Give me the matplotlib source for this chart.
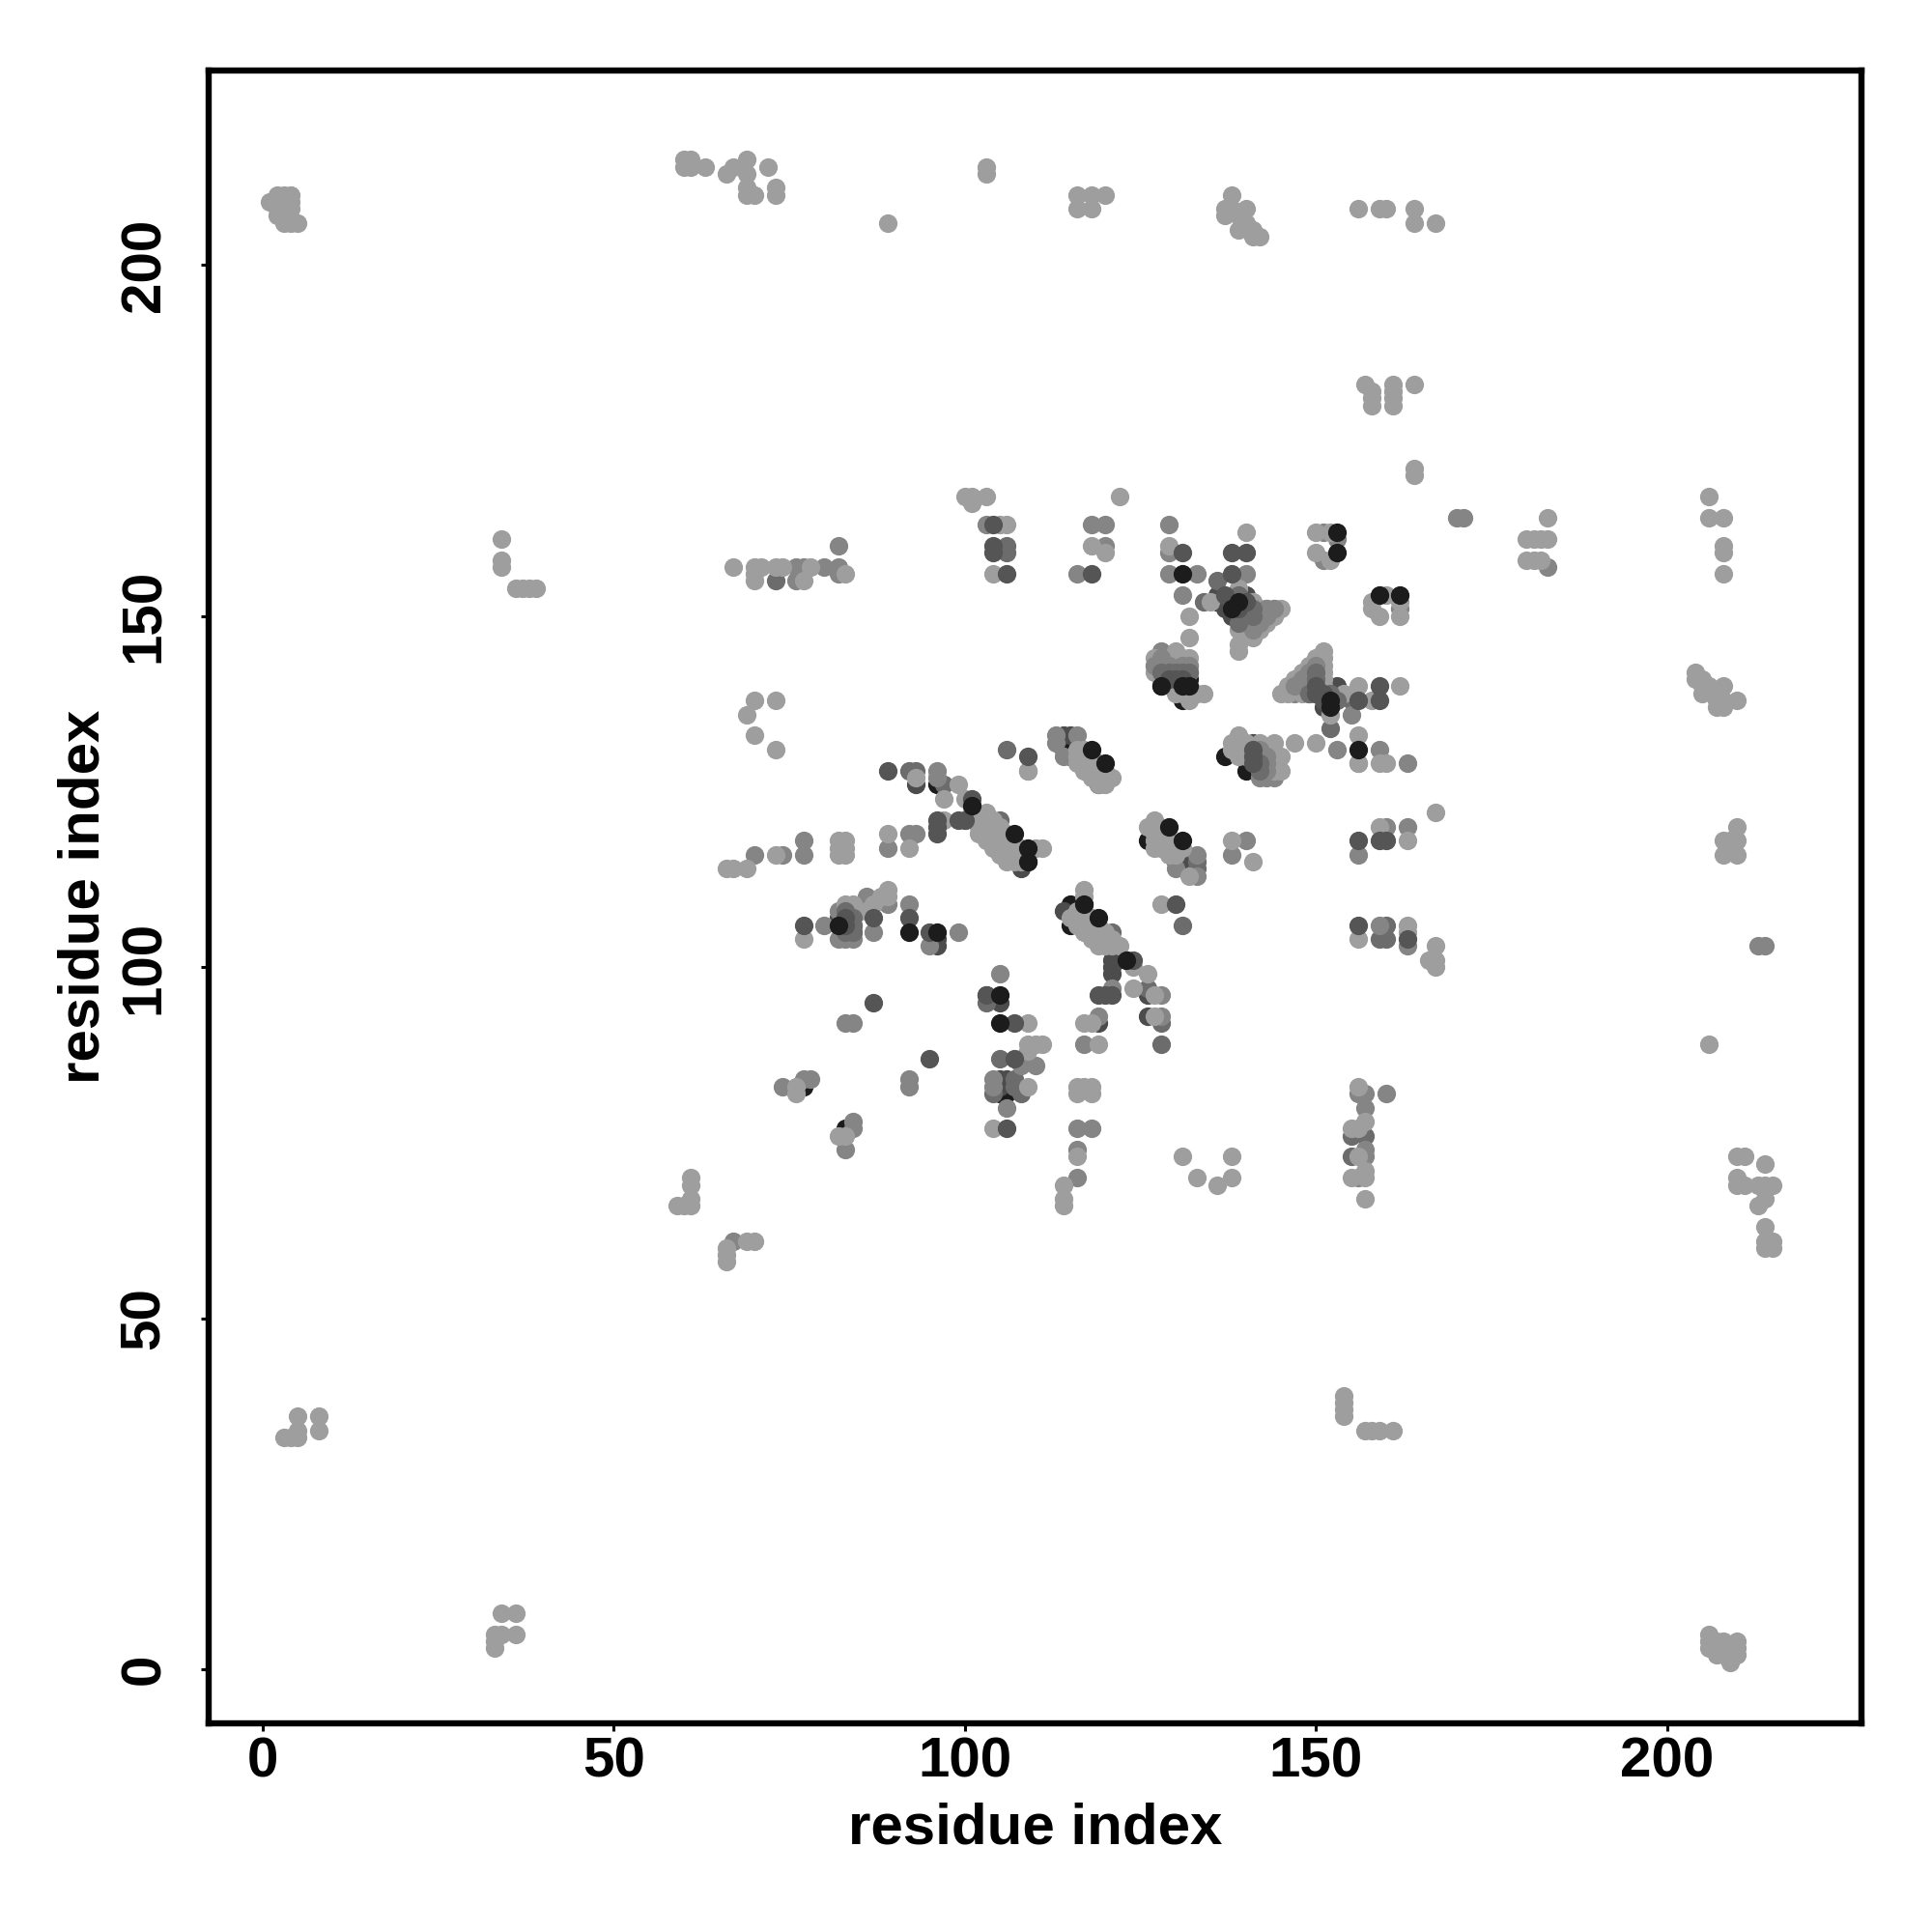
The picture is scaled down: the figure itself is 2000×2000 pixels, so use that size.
import matplotlib
matplotlib.use("Agg")
import matplotlib.pyplot as plt

# contact points, one list per grey tone
black_low = [(114,131),(115,130),(119,126),(140,128),(137,130),(128,140),(129,141),(132,141),(131,138),
             (136,152),(138,152),(138,151),(152,138),(152,137),(82,106),(106,116),(109,115),(126,118),
             (130,115),(131,115),(115,106),(115,109),(117,109),(77,83),(83,77),(106,82),(105,82),(123,101),(96,126),(101,123)]
dark_low = [(114,133),(115,133),(141,132),(141,131),(141,130),(141,129),(136,153),(140,153),(137,151),(138,150),
            (139,150),(150,140),(150,139),(153,140),(151,137),(82,107),(83,107),(105,84),(105,83),(106,84),
            (93,126),(114,108),(132,115),(128,141),(130,141),(96,104),(96,103),(108,114),(121,101),(121,100),(121,99),
            (126,96),(126,93),(119,92),(103,96),(105,95)]
mid_tone = [(136,155),(155,138),(142,129),(142,128),(143,130),(84,106),(84,105),(93,128),(92,128),(73,155),(106,160),(106,159),
            (107,84),(107,83),(108,82),(104,82),(103,95),(105,87),(100,121),(97,126),(105,121),(121,105),(133,115),(133,114),
            (126,97),(128,92),(128,89),(160,106),(159,104),(160,104),(155,73),(157,76),(155,76),(152,134),(134,152),(106,131),(131,106)]
soft_tone = [(76,157),(77,157),(80,157),(82,157),(82,156),(76,155),(82,160),(103,163),(116,156),(118,163),(120,163),(120,160),
             (129,163),(129,159),(129,156),(133,156),(131,153),(140,156),(151,162),(151,158),(153,161),(162,151),(155,136),(153,131),
             (156,129),(163,129),(159,131),(142,127),(143,128),(143,127),(144,127),(113,133),(113,132),(116,133),(114,130),
             (109,128),(77,118),(77,116),(70,116),(74,116),(89,117),(92,119),(93,119),(80,106),(82,108),(84,108),(82,104),(83,104),
             (84,104),(86,110),(85,108),(87,105),(89,109),(92,109),(99,105),(95,103),(96,128),(96,127),(133,116),(133,113),(130,114),
             (138,116),(140,118),(156,116),(160,120),(163,120),(159,106),(163,103),(121,97),(128,96),(119,93),(128,93),(117,89),
             (105,99),(108,87),(108,86),(110,86),(104,84),(104,83),(106,80),(92,84),(92,83),(83,92),(84,92),(74,83),(77,84),(78,84),
             (83,74),(84,78),(84,77),(116,77),(118,77),(116,74),(116,70),(67,61),(157,82),(160,82),(157,80),(157,74),(157,73),
             (156,70),(213,103),(214,103),(156,82),(183,157),(170,164),(171,164),(128,145),(128,144),(128,143),(128,142),(129,143),
             (129,142),(129,144),(132,142),(147,139),(148,140),(149,139),(149,140),(150,141),(150,142),(149,141),(140,148),(141,148),
             (142,149),(143,150),(141,149),(144,151),(143,151)]
light_tone = [(67,157),(70,157),(71,157),(73,157),(74,157),(78,157),(83,156),(70,156),(70,155),(77,155),(100,167),(101,167),(103,167),
              (101,166),(105,163),(106,163),(104,156),(118,160) ,(120,159),(122,167),(129,160),(132,150),(132,147),(135,152),(139,154),
              (141,152),(142,151),(145,151),(144,150),(142,150),(141,150),(140,150),(140,149),(143,149),(142,148),(141,147),(139,148),(139,146),
              (139,145),(140,162),(150,162),(152,162),(150,159),(152,158),(160,153),(158,152),(158,151),(159,150),(162,152),(162,150),
              (151,145),(150,144),(151,144),(149,143),(150,143),(151,143),(148,142),(151,142),(147,141),(151,141),(146,140),(151,140),
              (145,139),(146,139),(148,139),(151,139),(154,139),(152,136),(156,140),(158,138),(162,140),(156,133),(150,132),(147,132),
              (156,129),(159,129),(160,129),(138,132),(139,133),(140,132),(138,131),(139,131),(139,130),(140,130),(142,132),(143,131),
              (144,132),(144,130),(145,130),(144,128),(145,128),(144,129),(143,129),(127,144),(130,145),(132,144),(127,143),(127,142),
              (130,144),(130,143),(131,144),(131,143),(130,142),(132,143),(130,139),(131,139),(132,138),(133,139),(134,139),(132,139),
              (116,131),(117,131),(116,130),(117,130),(118,130),(116,129),(117,129),(118,129),(119,129),(117,128),(118,128),(119,128),
              (120,128),(118,127),(119,127),(120,127),(121,127),(119,126),(120,126),(109,128),(70,138),(73,138),(69,136),(70,133),(73,131),
              (89,119),(92,117),(93,127),(99,126),(97,124),(100,124),(101,122),(97,121),(103,122),(103,121),(104,121),(102,120),(103,120),
              (104,120),(105,120),(102,119),(103,119),(104,119),(105,119),(106,119),(103,118),(104,118),(105,118),(106,118),(104,117),
              (105,117),(106,117),(107,117),(108,117),(105,116),(106,116),(107,116),(108,116),(106,115),(107,115),(108,115),(110,117),(111,117),
              (73,116),(66,114),(67,114),(69,114),(82,118),(83,118),(82,117),(83,117),(82,116),(83,116),(77,104),(83,109),(87,109),(86,108),
              (88,110),(89,111),(89,110),(84,109),(127,121),(126,120),(127,120),(127,119),(128,119),(128,118),(129,118),(127,118),(129,117),
              (130,117),(127,117),(128,117),(129,116),(130,116),(131,117),(132,113),(128,109),(138,118),(141,115),(159,120),(163,118),(167,122),
              (156,104),(163,106),(163,105),(167,103),(166,101),(167,101),(167,100),(117,111),(117,110),(116,108),(117,108),(115,107),(116,107),
              (117,107),(118,107),(116,106),(117,106),(118,106),(119,106),(117,105),(118,105),(119,105),(120,105),(118,104),(119,104),(120,104),
              (121,104),(119,103),(120,103),(121,103),(122,103),(124,100),(126,99),(124,97),(127,96),(127,93),(117,92),(118,92),(119,89),
              (109,92),(109,89),(110,89),(111,89),(109,88),(109,83),(104,77),(116,83),(117,83),(118,83),(116,82),(118,82),(116,73),(114,69),
              (114,67),(114,66),(131,73),(133,70),(136,69),(138,73),(138,70),(156,83),(157,78),(155,77),(156,77),(156,73),(155,70),(157,71),
              (157,70),(157,67),(76,82),(76,83),(82,76),(83,76),(66,60),(66,59),(66,58),(69,61),(70,61),(59,66),(60,66),(61,66),(61,67),(61,69),
              (61,70),(164,171),(164,170),(183,164),(180,161),(181,161),(182,161),(183,161),(180,158),(181,158),(182,158),(206,167),(206,164),
              (208,164),(208,160),(208,159),(208,156),(204,142),(204,141),(205,141),(205,140),(206,140),(205,139),(208,140),(207,138),(207,137),
              (208,138),(208,137),(210,138),(210,120),(208,118),(209,118),(210,118),(208,116),(210,116),(206,89),(210,73),(211,73),(214,72),
              (210,70),(210,69),(211,69),(213,69),(214,69),(215,69),(214,67),(213,66),(214,63),(214,61),(215,61),(214,60),(215,60),
              (1,209),(2,210),(3,210),(4,210),(2,208),(3,208),(4,208),(2,207),(3,207),(3,206),(4,206),(5,206),(3,209),(4,209),
              (60,215),(61,215),(60,214),(61,214),(63,214),(66,213),(67,214),(69,215),(69,213),(69,211),(69,210),(70,210),(72,214),(73,211),(73,210),
              (89,206),(103,214),(103,213),(116,210),(118,210),(120,210),(116,208),(118,208),(138,210),(137,208),(137,207),(138,208),(140,208),
              (139,207),(139,205),(140,206),(141,205),(141,204),(142,204),(156,208),(159,208),(160,208),(164,208),(164,206),(167,206),
              (157,183),(158,182),(158,181),(158,180),(161,183),(161,182),(161,181),(161,180),(164,183),(3,33),(4,33),(5,33),(5,36),(5,34),(8,36),(8,34),
              (34,8),(36,8),(33,5),(34,5),(36,5),(33,4),(33,3),(34,161),(34,158),(34,157),(36,154),(37,154),(38,154),(39,154),(154,39),(154,38),(154,37),(154,36),
              (157,34),(158,34),(159,34),(161,34),(206,5),(206,4),(206,3),(207,4),(207,2),(208,4),(208,3),(208,2),(209,3),(209,2),(209,1),(210,4),(210,3),(210,2)]
soft_top = [(148,141),(148,140),(147,140),(149,142),(149,141),(149,140),(150,143),(143,150),(142,149),(141,148),(142,150),(143,151),(144,151),
            (140,149),(141,149),(127,143),(128,144),(129,143),(131,143),(132,143),(142,131),(143,130),(143,129),(143,128),(142,130)]
mid_top = [(150,142),(150,141),(149,139),(140,151),(141,151),(141,150),(139,149),(139,153),(128,142),(129,142),(130,142),(131,142),
           (132,142),(142,129),(142,128),(83,108),(84,107),(84,106),(84,105),(83,105),(152,139),(153,138)]
dark_top = [(104,163),(104,160),(104,159),(106,156),(118,156),(131,159),(138,159),(140,159),(138,156),(159,140),(159,138),(156,138),(89,128),
            (77,106),(87,107),(92,107),(95,105),(96,121),(96,120),(96,119),(99,121),(101,124),(100,121),(87,95),(95,87),(107,87),(106,77),
            (107,92),(109,130),(130,109),(119,96),(120,96),(121,96),(124,101),(156,118),(159,118),(160,118),(156,106),(163,104),(103,96),
            (150,140),(150,139),(151,139),(151,138),(129,141),(130,141),(131,141),(141,131),(141,130),(141,129),(140,152),(139,151),(137,153),(83,106),(83,107)]
black_top = [(153,162),(153,159),(159,153),(162,153),(131,156),(156,131),(118,131),(120,129),(129,120),(131,118),(107,119),(109,117),
             (109,115),(119,107),(92,105),(96,105),(105,96),(105,92),(101,123),(123,101),(117,109),(139,152),(138,151),(152,138),(152,137),
             (128,140),(132,140),(131,140),(82,106)]

layers = [(black_low, "#1c1c1c"), (dark_low, "#4c4c4c"), (mid_tone, "#6c6c6c"), (soft_tone, "#858585"),
          (light_tone, "#9e9e9e"), (soft_top, "#858585"), (mid_top, "#6c6c6c"), (dark_top, "#555555"), (black_top, "#1c1c1c")]
ticks = [0, 50, 100, 150, 200]
axis_label = "residue index"

plt.rcParams["font.family"] = ["Liberation Sans", "DejaVu Sans"]
plt.rcParams["font.weight"] = "bold"

fig = plt.figure(figsize=(10, 10), dpi=200)
ax = fig.add_axes([0.108, 0.108, 0.8555, 0.8555])
for pts, col in layers:
    ax.scatter([p[0] for p in pts], [p[1] for p in pts], s=48, c=col, linewidths=0, zorder=2)

ax.set_xlim(-7.7, 227.7); ax.set_ylim(-7.7, 227.7)
ax.set_xticks(ticks); ax.set_yticks(ticks)
ax.tick_params(axis="x", length=3, width=1.1, labelsize=21, pad=2)
ax.tick_params(axis="y", length=3, width=1.1, labelsize=21, pad=11)
for lab in ax.get_yticklabels():
    lab.set_rotation(90); lab.set_va("center")
for sp in ax.spines.values():
    sp.set_linewidth(2.3)
ax.set_xlabel(axis_label, fontsize=21.6, fontweight="bold", labelpad=5)
ax.set_ylabel(axis_label, fontsize=21.6, fontweight="bold", labelpad=3)
fig.savefig("out.png", dpi=200)
